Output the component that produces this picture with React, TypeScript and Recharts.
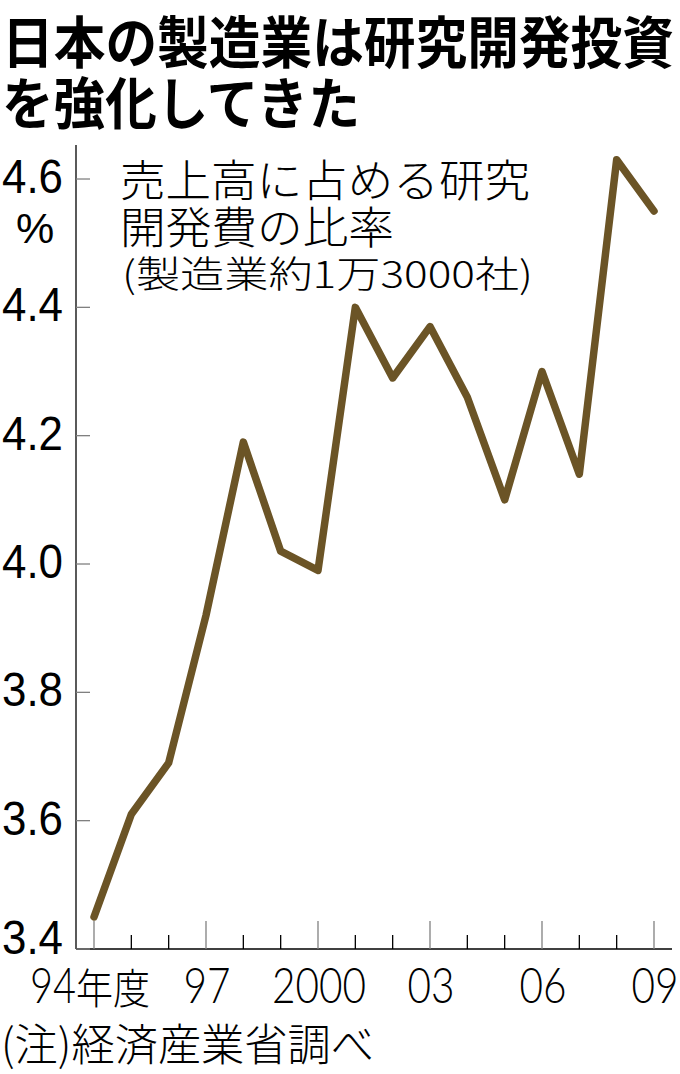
import React from 'react';
import { LineChart, Line, XAxis, YAxis } from 'recharts';

// fiscal years (94 - 09)
const YEARS = ['94', '95', '96', '97', '98', '99', '00', '01', '02', '03', '04', '05', '06', '07', '08', '09'];
// R&D spending as % of sales
const RATIO = [3.45, 3.61, 3.69, 3.92, 4.19, 4.02, 3.99, 4.4, 4.29, 4.37, 4.26, 4.1, 4.3, 4.14, 4.63, 4.55];
const Y_TICKS = [3.4, 3.6, 3.8, 4.0, 4.2, 4.4, 4.6];
const X_LABELS: Record<string, string> = { '94': '94', '97': '97', '00': '2000', '03': '03', '06': '06', '09': '09' };

const data = YEARS.map((year, i) => ({ year, ratio: RATIO[i] }));

const W = 680;
const H = 1074;
const LINE_COLOR = '#6b5426';
const CJK = '"Noto Sans CJK JP", sans-serif';
const NUM = 'Lato, "Liberation Sans Narrow", sans-serif';

const XTick = (props: any) => {
  const { x, y, payload } = props;
  const label = X_LABELS[payload.value];
  const major = label !== undefined;
  const first = payload.value === '94';
  return (
    <g>
      <line x1={x} x2={x} y1={y} y2={y - (major ? 28 : 14)} stroke={major ? '#808080' : '#000'} strokeWidth={1.3} />
      {major && !first && (
        <text x={x + 1} y={y + 54} textAnchor="middle" fill="#000" fontFamily={NUM} fontWeight={300} fontSize={50}
          textLength={label.length * 23.5} lengthAdjust="spacingAndGlyphs">
          {label}
        </text>
      )}
      {first && (
        <g>
          <text x={x - 64} y={y + 54} fill="#000" fontFamily={NUM} fontWeight={300} fontSize={50}
            textLength={46} lengthAdjust="spacingAndGlyphs">{label}</text>
          <text x={x - 18} y={y + 55} fill="#000" fontFamily={CJK} fontWeight={300} fontSize={42}
            textLength={74} lengthAdjust="spacingAndGlyphs">年度</text>
        </g>
      )}
    </g>
  );
};

const YTick = (props: any) => {
  const { x, y, payload } = props;
  const v = payload.value as number;
  return (
    <g>
      <line x1={x} x2={x + 14} y1={y} y2={y} stroke="#808080" strokeWidth={1.3} />
      <text x={x - 13} y={v === 3.4 ? y + 5 : y + 14} textAnchor="end" fill="#000"
        fontFamily='"Liberation Sans", sans-serif' fontSize={48} textLength={61} lengthAdjust="spacingAndGlyphs">
        {v.toFixed(1)}
      </text>
      {v === 4.6 && (
        <text x={35} y={243} textAnchor="middle" fill="#000" fontFamily='"Liberation Sans", sans-serif' fontSize={43}>%</text>
      )}
    </g>
  );
};

export default function App() {
  return (
    <div style={{ position: 'absolute', left: 0, top: 0, width: W, height: H, background: '#fff' }}>
      <LineChart width={W} height={H} data={data} margin={{ top: 145, right: 8, bottom: 0, left: 0 }}>
        <XAxis
          dataKey="year"
          interval={0}
          padding={{ left: 18, right: 18 }}
          height={125}
          tickSize={0}
          tickMargin={0}
          tickLine={false}
          axisLine={{ stroke: '#000', strokeWidth: 1.3 }}
          tick={<XTick />}
        />
        <YAxis
          type="number"
          domain={[3.4, 4.653]}
          ticks={Y_TICKS}
          width={76}
          tickSize={0}
          tickMargin={0}
          tickLine={false}
          axisLine={{ stroke: '#000', strokeWidth: 1.3 }}
          tick={<YTick />}
        />
        <Line
          type="linear"
          dataKey="ratio"
          stroke={LINE_COLOR}
          strokeWidth={7.5}
          strokeLinecap="round"
          strokeLinejoin="round"
          dot={false}
          isAnimationActive={false}
        />
      </LineChart>
      <svg width={W} height={H} style={{ position: 'absolute', left: 0, top: 0, pointerEvents: 'none' }}>
        <g fontFamily={CJK} fill="#000">
          <text x={2} y={63} fontSize={56} fontWeight={700} textLength={672} lengthAdjust="spacingAndGlyphs">日本の製造業は研究開発投資</text>
          <text x={2} y={124} fontSize={56} fontWeight={700} textLength={358} lengthAdjust="spacingAndGlyphs">を強化してきた</text>
          <text x={120} y={197} fontSize={44} fontWeight={300} textLength={410} lengthAdjust="spacingAndGlyphs">売上高に占める研究</text>
          <text x={120} y={244} fontSize={44} fontWeight={300} textLength={274} lengthAdjust="spacingAndGlyphs">開発費の比率</text>
          <text x={122} y={288} fontSize={37} fontWeight={300} textLength={411} lengthAdjust="spacingAndGlyphs">(製造業約1万3000社)</text>
          <text x={1} y={1061} fontSize={44} fontWeight={300} textLength={373} lengthAdjust="spacingAndGlyphs">(注)経済産業省調べ</text>
        </g>
      </svg>
    </div>
  );
}
